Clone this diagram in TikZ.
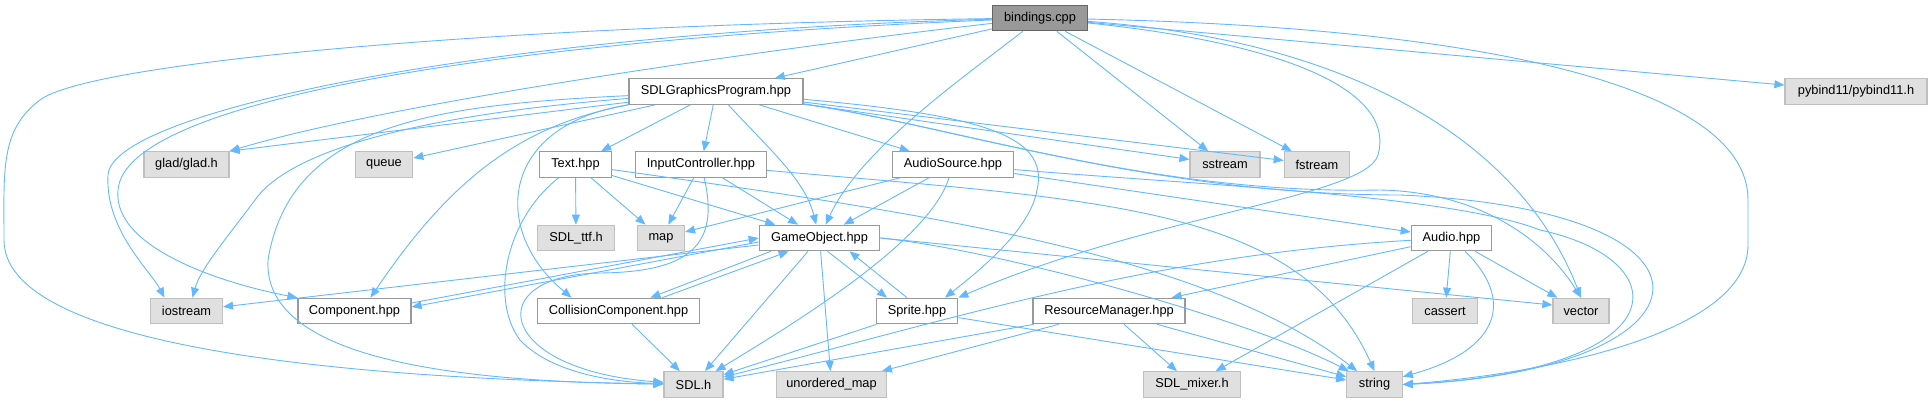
\documentclass[tikz,border=0pt]{standalone}
\usepackage{fontspec}
\setmainfont{Liberation Sans}
\usepackage{tikz}
\usetikzlibrary{arrows.meta, calc}

\definecolor{edgeblue}{HTML}{63B8FF}
\definecolor{sysfill}{HTML}{E0E0E0}
\definecolor{sysdraw}{HTML}{BFBFBF}
\definecolor{hdrdraw}{HTML}{999999}
\definecolor{rootfill}{HTML}{999999}
\definecolor{rootdraw}{HTML}{666666}

\begin{document}
\begin{tikzpicture}[
  x=1pt, y=-1pt,
  every node/.style={font=\fontsize{12.8}{15}\selectfont},
  hdrbox/.style={rectangle, draw=hdrdraw, fill=white, text centered, minimum height=25.5pt, inner xsep=2pt, line width=1.2pt},
  sysbox/.style={hdrbox, draw=sysdraw, fill=sysfill},
  rootbox/.style={hdrbox, draw=rootdraw, fill=rootfill},
  arr/.style={-{Triangle[length=10pt, width=8pt]}, draw=edgeblue, line width=0.9pt},
]
\useasboundingbox (0,0) rectangle (1932,403);

%% Row 0: the source file
\node[rootbox, minimum width=95pt]    (bindings)  at (1040,18)    {bindings.cpp};

%% Row 1
\node[hdrbox, minimum width=174pt]    (sdlgp)     at (716,91.5)   {SDLGraphicsProgram.hpp};
\node[sysbox, minimum width=142pt]    (pybind)    at (1856,91.5)  {pybind11/pybind11.h};

%% Row 2
\node[sysbox, minimum width=85pt]     (glad)      at (186.5,164.5) {glad/glad.h};
\node[sysbox, minimum width=57.5pt]   (queue)     at (384,164.5)   {queue};
\node[hdrbox, minimum width=72pt]     (texth)     at (575.5,164.5) {Text.hpp};
\node[hdrbox, minimum width=131pt]    (inputc)    at (701,164.5)   {InputController.hpp};
\node[hdrbox, minimum width=121.5pt]  (audiosrc)  at (953,164.5)   {AudioSource.hpp};
\node[sysbox, minimum width=70pt]     (sstream)   at (1225,164.5)  {sstream};
\node[sysbox, minimum width=65.5pt]   (fstream)   at (1317,164.5)  {fstream};

%% Row 3
\node[sysbox, minimum width=77pt]     (sdlttf)    at (576,238)     {SDL\_ttf.h};
\node[sysbox, minimum width=47pt]     (mapf)      at (661,238)     {map};
\node[hdrbox, minimum width=120.5pt]  (gameobj)   at (819.5,238)   {GameObject.hpp};
\node[hdrbox, minimum width=80.5pt]   (audioh)    at (1451.5,238)  {Audio.hpp};

%% Row 4
\node[sysbox, minimum width=72pt]     (iostream)  at (186.5,311)   {iostream};
\node[hdrbox, minimum width=113pt]    (comp)      at (354.5,311)   {Component.hpp};
\node[hdrbox, minimum width=162.5pt]  (collision) at (618.5,311)   {CollisionComponent.hpp};
\node[hdrbox, minimum width=81.5pt]   (sprite)    at (917,311)     {Sprite.hpp};
\node[hdrbox, minimum width=152pt]    (resmgr)    at (1109,311)    {ResourceManager.hpp};
\node[sysbox, minimum width=65.5pt]   (cassert)   at (1445,311)    {cassert};
\node[sysbox, minimum width=56pt]     (vectorf)   at (1581,311)    {vector};

%% Row 5
\node[sysbox, minimum width=59pt]     (sdlh)      at (693.5,384.5) {SDL.h};
\node[sysbox, minimum width=110.5pt]  (umap)      at (831.5,384.5) {unordered\_map};
\node[sysbox, minimum width=97pt]     (mixer)     at (1192,384.5)  {SDL\_mixer.h};
\node[sysbox, minimum width=55.5pt]   (stringf)   at (1374.5,384.5) {string};

%% Arrows: bindings.cpp
\draw[arr] (bindings) -- (sdlgp);
\draw[arr] (bindings) -- (pybind);
\draw[arr] (bindings) .. controls (960,80) and (860,150) .. (gameobj);
\draw[arr] (bindings) -- (sstream);
\draw[arr] (bindings) -- (fstream);
\draw[arr] (bindings) .. controls (800,45) and (400,100) .. (glad.north east);
\draw[arr] (bindings) .. controls (500,25) and (90,62) .. (40,100) .. controls (0,130) and (4,170) .. (4,240) .. controls (4,340) and (300,378) .. (sdlh);
\draw[arr] (bindings) .. controls (500,32) and (112,110) .. (108,175) .. controls (105,230) and (150,270) .. ($(iostream.north)+(-22,0)$);
\draw[arr] (bindings) .. controls (500,40) and (125,100) .. (118,190) .. controls (112,250) and (230,285) .. (comp.north west);
\draw[arr] (bindings) .. controls (1500,28) and (1748,90) .. (1748,200) -- (1748,245) .. controls (1748,330) and (1560,372) .. (stringf.east);
\draw[arr] (bindings) .. controls (1350,40) and (1520,140) .. (vectorf.north);
\draw[arr] (bindings) .. controls (1300,45) and (1395,95) .. (1378,155) .. controls (1366,197) and (1150,215) .. (sprite.north east);

%% Arrows: SDLGraphicsProgram.hpp
\draw[arr] (sdlgp) -- (glad.north east);
\draw[arr] (sdlgp) -- (queue);
\draw[arr] (sdlgp) -- (texth);
\draw[arr] (sdlgp) -- (inputc);
\draw[arr] (sdlgp) -- (audiosrc);
\draw[arr] (sdlgp) -- (sstream);
\draw[arr] (sdlgp) -- (fstream);
\draw[arr] (sdlgp) .. controls (770,150) and (805,180) .. (gameobj);
\draw[arr] (sdlgp) .. controls (980,115) and (1050,135) .. (1037,190) .. controls (1030,230) and (980,270) .. ($(sprite.north)+(28,0)$);
\draw[arr] (sdlgp) .. controls (950,125) and (1150,195) .. (1380,190) .. controls (1480,192) and (1545,240) .. (vectorf.north);
\draw[arr] (sdlgp) .. controls (950,125) and (1150,195) .. (1400,195) .. controls (1750,210) and (1720,370) .. (stringf.east);
\draw[arr] (sdlgp) .. controls (420,115) and (290,150) .. (255,200) .. controls (225,240) and (200,270) .. ($(iostream.north)+(6,0)$);
\draw[arr] (sdlgp) .. controls (430,105) and (290,125) .. (268,260) .. controls (262,365) and (480,382) .. (sdlh);
\draw[arr] (sdlgp.south west) .. controls (520,125) and (450,180) .. ($(comp.north)+(16,0)$);
\draw[arr] (sdlgp.south west) .. controls (500,125) and (490,230) .. ($(collision.north)+(-47,0)$);

%% Arrows: Text.hpp
\draw[arr] (texth) -- (sdlttf);
\draw[arr] (texth) -- (mapf);
\draw[arr] (texth) -- (gameobj);
\draw[arr] (texth) .. controls (900,210) and (1200,250) .. (stringf);
\draw[arr] (texth) .. controls (505,220) and (490,300) .. (520,340) .. controls (550,372) and (610,382) .. (sdlh);

%% Arrows: InputController.hpp
\draw[arr] (inputc) -- (mapf);
\draw[arr] (inputc) -- (gameobj);
\draw[arr] (inputc) .. controls (1100,200) and (1300,205) .. (stringf.north);
\draw[arr] (inputc) .. controls (720,245) and (690,272) .. (600,273) .. controls (480,275) and (495,370) .. (sdlh);

%% Arrows: AudioSource.hpp
\draw[arr] (audiosrc) -- (mapf);
\draw[arr] (audiosrc) -- (gameobj);
\draw[arr] (audiosrc) .. controls (930,240) and (800,320) .. (sdlh);
\draw[arr] (audiosrc) -- (audioh);
\draw[arr] (audiosrc) .. controls (1200,185) and (1450,195) .. (1540,230) .. controls (1680,260) and (1680,370) .. (stringf.east);

%% Arrows: GameObject.hpp
\draw[arr] (gameobj) -- (iostream);
\draw[arr] ([yshift=-4pt]gameobj.west) -- ([yshift=4pt]comp.east);
\draw[arr] ([yshift=8pt]comp.east) -- (gameobj.west);
\draw[arr] ([xshift=12pt]gameobj.south west) -- ([xshift=-50pt]collision.north east);
\draw[arr] ([xshift=-38pt]collision.north east) -- ([xshift=30pt]gameobj.south west);
\draw[arr] ([xshift=8pt]gameobj.south) -- ([xshift=-30pt]sprite.north);
\draw[arr] ([xshift=-10pt]sprite.north) -- ([xshift=30pt]gameobj.south);
\draw[arr] (gameobj) -- (sdlh);
\draw[arr] (gameobj) -- (umap);
\draw[arr] (gameobj.east) .. controls (1000,250) and (1250,320) .. (stringf);
\draw[arr] (gameobj.east) -- ([yshift=6pt]vectorf.west);

%% Arrows: lower headers
\draw[arr] (collision) -- (sdlh);
\draw[arr] (sprite) -- (sdlh);
\draw[arr] (sprite) -- (stringf);
\draw[arr] (resmgr) -- (sdlh);
\draw[arr] (resmgr) -- (umap);
\draw[arr] (resmgr) -- (mixer);
\draw[arr] (resmgr) -- (stringf);
\draw[arr] (audioh) .. controls (1150,255) and (950,320) .. (sdlh);
\draw[arr] (audioh) -- (resmgr);
\draw[arr] (audioh) -- (mixer);
\draw[arr] (audioh) -- (cassert);
\draw[arr] (audioh) -- (vectorf);
\draw[arr] (audioh) .. controls (1515,300) and (1500,350) .. (stringf);

\end{tikzpicture}
\end{document}
